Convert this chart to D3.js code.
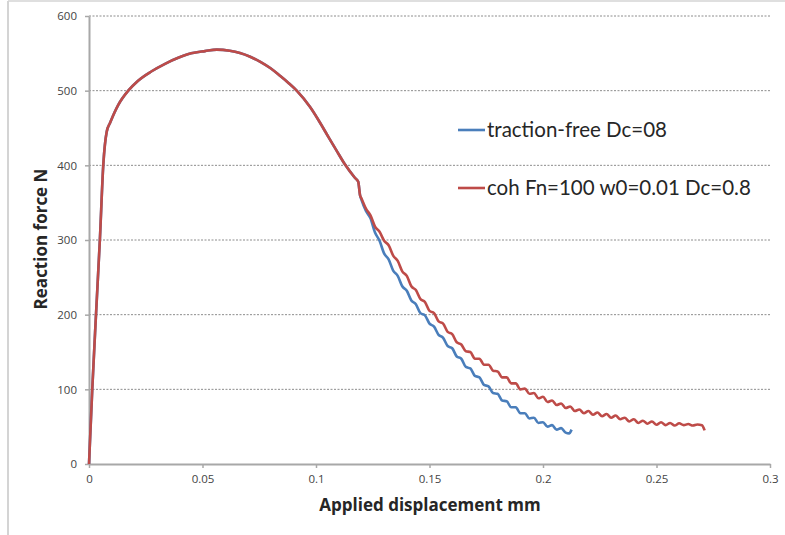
<!DOCTYPE html>
<html>
<head>
<meta charset="utf-8">
<script src="https://cdn.jsdelivr.net/npm/d3@7"></script>
<style>
  body { margin: 0; background: #fff; }
  text { font-family: Lato, "Open Sans", sans-serif; }
</style>
</head>
<body>
<div id="chart"></div>
<script>
// tick values
var xTicks = [0, 0.05, 0.1, 0.15, 0.2, 0.25, 0.3];
var yTicks = [0, 100, 200, 300, 400, 500, 600];

// shared loading branch (both runs identical until crack start)
var riseX = [0, 0.00145, 0.0031, 0.0048, 0.0063, 0.0078, 0.0093, 0.0129, 0.0173, 0.0215, 0.0276, 0.0335, 0.0393, 0.0450, 0.0511, 0.0563,
  0.0620, 0.0665, 0.0710, 0.0753, 0.0800, 0.0841, 0.0880, 0.0915, 0.0974, 0.1010, 0.1047, 0.1090, 0.1128, 0.1172, 0.1186, 0.1194];
var riseF = [0, 101, 201, 301, 401, 445, 457, 481, 500, 513, 526, 536, 544, 550, 553, 555,
  553.5, 550.5, 545.5, 539, 530, 520, 510, 500, 478, 461, 442, 420, 401, 383, 378, 360];

// traction-free Dc=08 tail
var tfX = [0.120, 0.122, 0.124, 0.126, 0.128, 0.130, 0.132, 0.134, 0.136, 0.138, 0.140, 0.142, 0.144, 0.146, 0.148, 0.150,
  0.152, 0.154, 0.156, 0.158, 0.160, 0.162, 0.164, 0.166, 0.168, 0.170, 0.172, 0.174, 0.176, 0.178, 0.180, 0.182,
  0.184, 0.186, 0.188, 0.190, 0.192, 0.194, 0.196, 0.198, 0.200, 0.202, 0.204, 0.206, 0.208, 0.210, 0.2115, 0.2126];
var tfF = [354, 339, 329, 310, 299, 282, 274, 259, 252, 238, 232, 219, 214, 202, 199, 188,
  184, 173, 169, 158, 155, 144, 141, 130, 128, 118, 116, 106, 104, 95, 94, 85,
  84, 76, 76, 68, 68, 61, 62, 55, 56, 50, 52, 46, 48, 42, 41, 46];

// coh Fn=100 w0=0.01 Dc=0.8 tail
var cohX = [0.120, 0.122, 0.124, 0.126, 0.128, 0.130, 0.132, 0.134, 0.136, 0.138, 0.140, 0.142, 0.144, 0.146, 0.148, 0.150,
  0.152, 0.154, 0.156, 0.158, 0.160, 0.162, 0.164, 0.166, 0.168, 0.170, 0.172, 0.174, 0.176, 0.178, 0.180, 0.182,
  0.184, 0.186, 0.188, 0.190, 0.192, 0.194, 0.196, 0.198, 0.200, 0.202, 0.204, 0.206, 0.208, 0.210, 0.212, 0.214,
  0.216, 0.218, 0.220, 0.222, 0.224, 0.226, 0.228, 0.230, 0.232, 0.234, 0.236, 0.238, 0.240, 0.242, 0.244, 0.246,
  0.248, 0.250, 0.252, 0.254, 0.256, 0.258, 0.260, 0.262, 0.264, 0.266, 0.268, 0.270, 0.2712];
var cohF = [356, 342, 333, 318, 311, 299, 293, 279, 272, 258, 252, 238, 233, 221, 217, 205,
  202, 191, 188, 177, 174, 163, 160, 151, 150, 141, 141, 133, 133, 125, 124, 116,
  116, 108, 108, 100, 101, 94, 95, 88, 90, 83, 85, 79, 81, 75, 77, 71,
  73, 68, 71, 66, 69, 64, 67, 62, 65, 60, 62, 57, 60, 55, 58, 54,
  57, 52.5, 56, 52, 55, 51.5, 54.5, 52, 53.5, 51.5, 53, 52, 45];

var seriesNames = ["traction-free Dc=08", "coh Fn=100 w0=0.01 Dc=0.8"];
var seriesColors = ["#4a7ebb", "#be4b48"];

var svgWidth = 785;
var svgHeight = 535;
var margin = { top: 16, right: 15, bottom: 71, left: 89 };
var width = svgWidth - margin.left - margin.right;
var height = svgHeight - margin.top - margin.bottom;

var svg = d3.select("#chart")
  .append("svg")
  .attr("width", svgWidth)
  .attr("height", svgHeight);

svg.append("rect").attr("width", svgWidth).attr("height", svgHeight).attr("fill", "#fff");

// frame of the pasted picture (left and top edges)
svg.append("line").attr("x1", 8).attr("x2", 8).attr("y1", 1).attr("y2", svgHeight)
  .attr("stroke", "#c6c6c6").attr("stroke-width", 1.5);
svg.append("line").attr("x1", 8).attr("x2", svgWidth).attr("y1", 1).attr("y2", 1)
  .attr("stroke", "#d4d4d4").attr("stroke-width", 1.5);

var chartGroup = svg.append("g")
  .attr("transform", `translate(${margin.left}, ${margin.top})`);

var xScale = d3.scaleLinear().domain([0, 0.3]).range([0, width]);
var yScale = d3.scaleLinear().domain([0, 600]).range([height, 0]);

// dashed gridlines
chartGroup.selectAll(".grid")
  .data(yTicks.filter(d => d > 0))
  .enter()
  .append("line")
  .attr("x1", 0)
  .attr("x2", width)
  .attr("y1", d => yScale(d))
  .attr("y2", d => yScale(d))
  .attr("stroke", "#8c8c8c")
  .attr("stroke-width", 1)
  .attr("stroke-dasharray", "2,1.5");

var bottomAxis = d3.axisBottom(xScale)
  .tickValues(xTicks)
  .tickFormat(d => d === 0 ? "0" : String(d))
  .tickSizeInner(4)
  .tickSizeOuter(0)
  .tickPadding(7);
var leftAxis = d3.axisLeft(yScale)
  .tickValues(yTicks)
  .tickSizeInner(4)
  .tickSizeOuter(0)
  .tickPadding(8);

var xAxis = chartGroup.append("g")
  .attr("transform", `translate(0, ${height})`)
  .call(bottomAxis);
var yAxis = chartGroup.append("g")
  .call(leftAxis);

[xAxis, yAxis].forEach(function(ax) {
  ax.select(".domain").attr("stroke", "#a8a8a8").attr("stroke-width", 2);
  ax.selectAll(".tick line").attr("stroke", "#a8a8a8").attr("stroke-width", 1.5);
  ax.selectAll(".tick text")
    .attr("fill", "#444")
    .style("font-family", "'Open Sans', sans-serif")
    .style("font-size", "11.5px");
});

// build series from the arrays
var tractionFree = riseX.map((x, i) => [x, riseF[i]])
  .concat(tfX.map((x, i) => [x, tfF[i]]));
var cohesive = riseX.map((x, i) => [x, riseF[i]])
  .concat(cohX.map((x, i) => [x, cohF[i]]));

var line = d3.line()
  .x(d => xScale(d[0]))
  .y(d => yScale(d[1]))
  .curve(d3.curveMonotoneX);

[tractionFree, cohesive].forEach(function(s, i) {
  chartGroup.append("path")
    .datum(s)
    .attr("fill", "none")
    .attr("stroke", seriesColors[i])
    .attr("stroke-width", 2.6)
    .attr("stroke-linejoin", "round")
    .attr("d", line);
});

// legend
var legend = svg.append("g");
var legendY = [130, 188];
seriesNames.forEach(function(name, i) {
  legend.append("line")
    .attr("x1", 458).attr("x2", 485)
    .attr("y1", legendY[i]).attr("y2", legendY[i])
    .attr("stroke", seriesColors[i])
    .attr("stroke-width", 2.6);
  legend.append("text")
    .attr("x", 487)
    .attr("y", legendY[i] + 7)
    .attr("fill", "#262626")
    .style("font-size", "20.5px")
    .text(name);
});

// axis titles
svg.append("text")
  .attr("x", 430)
  .attr("y", 511)
  .attr("text-anchor", "middle")
  .attr("fill", "#262626")
  .style("font-family", "'Open Sans', sans-serif")
  .style("font-size", "17px")
  .style("font-weight", "bold")
  .text("Applied displacement mm");

svg.append("text")
  .attr("transform", "translate(47, 239) rotate(-90)")
  .attr("text-anchor", "middle")
  .attr("fill", "#262626")
  .style("font-family", "'Open Sans', sans-serif")
  .style("font-size", "17px")
  .style("font-weight", "bold")
  .text("Reaction force N");
</script>
</body>
</html>
